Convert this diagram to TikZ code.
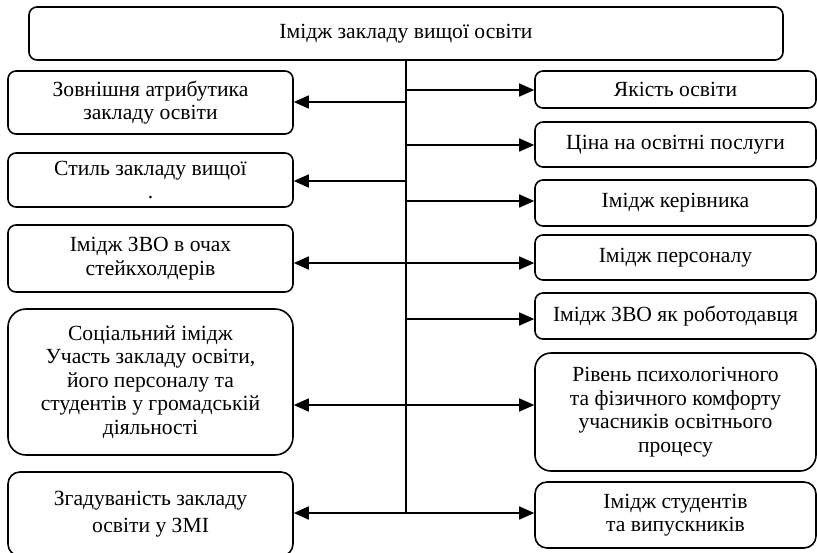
\documentclass[tikz,border=0pt]{standalone}
\usepackage{fontspec}
\setmainfont{Liberation Serif}
\usetikzlibrary{arrows.meta}

\begin{document}
\begin{tikzpicture}[x=0.5pt,y=-0.5pt,
    blok/.style={draw,line width=0.8pt,rounded corners=4pt,align=center,
      font=\fontsize{10.8}{11.8}\selectfont,inner sep=1pt},
    lblok/.style={blok,minimum width=142.5pt},
    rblok/.style={blok,minimum width=140.5pt},
    strilka/.style={line width=0.8pt,-{Triangle[length=7.5pt,width=6.5pt]}}]
    \useasboundingbox (0,0) rectangle (817,552);
    \node[blok,minimum width=377pt,minimum height=26.5pt] (top) at (406,33.5) {Імідж закладу вищої освіти};
    % left column
    \node[lblok,minimum height=31.5pt] (l1) at (150.5,102.5) {Зовнішня атрибутика\\закладу освіти};
    \node[lblok,minimum height=27pt] (l2) at (150.5,180) {Стиль закладу вищої\\.};
    \node[lblok,minimum height=33.5pt] (l3) at (150.5,258.5) {Імідж ЗВО в очах\\стейкхолдерів};
    \node[lblok,minimum height=73pt,rounded corners=9pt] (l4) at (150.5,382) {Соціальний імідж\\Участь закладу освіти,\\його персоналу та\\студентів у громадській\\діяльності};
    \node[lblok,minimum height=42pt,rounded corners=6pt] (l5) at (150.5,514) {Згадуваність закладу\\[2pt]освіти у ЗМІ};
    % right column
    \node[rblok,minimum height=18.5pt] (r1) at (675.5,89.5) {Якість освіти};
    \node[rblok,minimum height=22.5pt] (r2) at (675.5,144.5) {Ціна на освітні послуги};
    \node[rblok,minimum height=23pt] (r3) at (675.5,203) {Імідж керівника};
    \node[rblok,minimum height=22.5pt] (r4) at (675.5,257.5) {Імідж персоналу};
    \node[rblok,minimum height=23pt] (r5) at (675.5,316) {Імідж ЗВО як роботодавця};
    \node[rblok,minimum height=59pt,rounded corners=8pt] (r6) at (675.5,412) {Рівень психологічного\\та фізичного комфорту\\учасників освітнього\\процесу};
    \node[rblok,minimum height=33pt,rounded corners=6pt] (r7) at (675.5,515) {Імідж студентів\\та випускників};
    % trunk
    \coordinate (t1) at (406,102);
    \coordinate (t2) at (406,181);
    \coordinate (t3) at (406,263);
    \coordinate (t4) at (406,405);
    \coordinate (t5) at (406,513);
    \coordinate (s1) at (406,90);
    \coordinate (s2) at (406,145);
    \coordinate (s3) at (406,201);
    \coordinate (s5) at (406,319);
    \draw[line width=0.8pt] (top.south) -- (t5);
    \foreach \i in {1,...,5}
        \draw[strilka] (t\i) -- (t\i -| l\i.east);
    \draw[strilka] (s1) -- (s1 -| r1.west);
    \draw[strilka] (s2) -- (s2 -| r2.west);
    \draw[strilka] (s3) -- (s3 -| r3.west);
    \draw[strilka] (t3) -- (t3 -| r4.west);
    \draw[strilka] (s5) -- (s5 -| r5.west);
    \draw[strilka] (t4) -- (t4 -| r6.west);
    \draw[strilka] (t5) -- (t5 -| r7.west);
\end{tikzpicture}
\end{document}
